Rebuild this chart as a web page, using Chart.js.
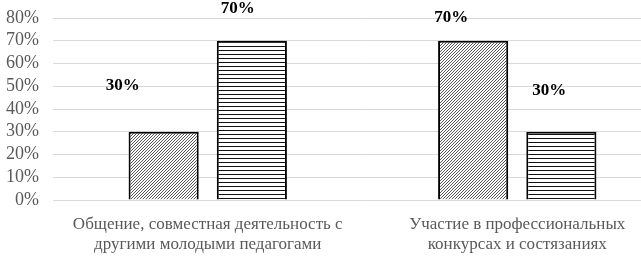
<!DOCTYPE html>
<html>
<head>
<meta charset="utf-8">
<script src="https://cdn.jsdelivr.net/npm/chart.js@4/dist/chart.umd.min.js"></script>
<style>
  html, body { margin: 0; padding: 0; background: #fff; overflow: hidden; }
  #wrap { position: relative; width: 672px; height: 256px; }
</style>
</head>
<body>
<div id="wrap"><canvas id="chart"></canvas></div>
<script>
// data
const categories = [
  ['Общение, совместная деятельность с', 'другими молодыми педагогами'],
  ['Участие в профессиональных', 'конкурсах и состязаниях']
];
const seriesA = [30, 70];
const seriesB = [70, 30];
const yTicks = [0, 10, 20, 30, 40, 50, 60, 70, 80];

// label nudges (the labels were dragged around in the original)
const labelShift = [
  [[-41, -46], [-22, -23]],
  [[-14, -32], [-12, -41]]
];

function diagPattern() {
  const c = document.createElement('canvas');
  c.width = 3; c.height = 3;
  const g = c.getContext('2d');
  g.fillStyle = '#fff';
  g.fillRect(0, 0, 3, 3);
  g.strokeStyle = '#555';
  g.lineWidth = 1;
  g.beginPath();
  g.moveTo(0, 3); g.lineTo(3, 0);
  g.moveTo(-1, 1); g.lineTo(1, -1);
  g.moveTo(2, 4); g.lineTo(4, 2);
  g.stroke();
  return g.createPattern(c, 'repeat');
}

function stripePattern() {
  const c = document.createElement('canvas');
  c.width = 4; c.height = 4;
  const g = c.getContext('2d');
  g.fillStyle = '#fff';
  g.fillRect(0, 0, 4, 4);
  g.fillStyle = '#111';
  g.fillRect(0, 2, 4, 1);
  return g.createPattern(c, 'repeat');
}

const serif = '"Liberation Serif", "Times New Roman", serif';

const valueLabels = {
  id: 'valueLabels',
  afterDatasetsDraw(chart) {
    const ctx = chart.ctx;
    ctx.save();
    ctx.font = 'bold 17px ' + serif;
    ctx.fillStyle = '#000';
    ctx.textAlign = 'center';
    ctx.textBaseline = 'middle';
    chart.data.datasets.forEach((ds, i) => {
      chart.getDatasetMeta(i).data.forEach((bar, j) => {
        const s = labelShift[i][j];
        ctx.fillText(ds.data[j] + '%', bar.x + s[0], bar.y + s[1]);
      });
    });
    ctx.restore();
  }
};

new Chart(document.getElementById('chart'), {
  type: 'bar',
  data: {
    labels: categories,
    datasets: [{
      data: seriesA,
      backgroundColor: diagPattern(),
      borderColor: '#000',
      borderWidth: 2,
      categoryPercentage: 0.57,
      barPercentage: 0.795
    }, {
      data: seriesB,
      backgroundColor: stripePattern(),
      borderColor: '#000',
      borderWidth: 2,
      categoryPercentage: 0.57,
      barPercentage: 0.795
    }]
  },
  options: {
    responsive: true,
    maintainAspectRatio: false,
    animation: false,
    layout: { padding: { top: 18, right: 0, left: 0, bottom: 0 } },
    plugins: { legend: { display: false }, tooltip: { enabled: false } },
    scales: {
      x: {
        grid: { display: false },
        border: { display: false },
        ticks: {
          color: '#595959',
          font: { family: serif, size: 17, lineHeight: 1.2 },
          padding: 6,
          maxRotation: 0,
          autoSkip: false
        },
        afterFit(scale) {
          scale.height = 56;
          scale.paddingLeft = 0;
          scale.paddingRight = 0;
        }
      },
      y: {
        min: 0,
        max: 80,
        afterBuildTicks(scale) { scale.ticks = yTicks.map(v => ({ value: v })); },
        grid: { color: '#d9d9d9', drawTicks: false },
        border: { display: false },
        ticks: {
          color: '#595959',
          font: { family: serif, size: 18 },
          padding: 14,
          autoSkip: false,
          callback: v => v + '%'
        },
        afterFit(scale) {
          scale.width = 53;
          scale.paddingTop = 0;
          scale.paddingBottom = 0;
        }
      }
    }
  },
  plugins: [valueLabels]
});
</script>
</body>
</html>
